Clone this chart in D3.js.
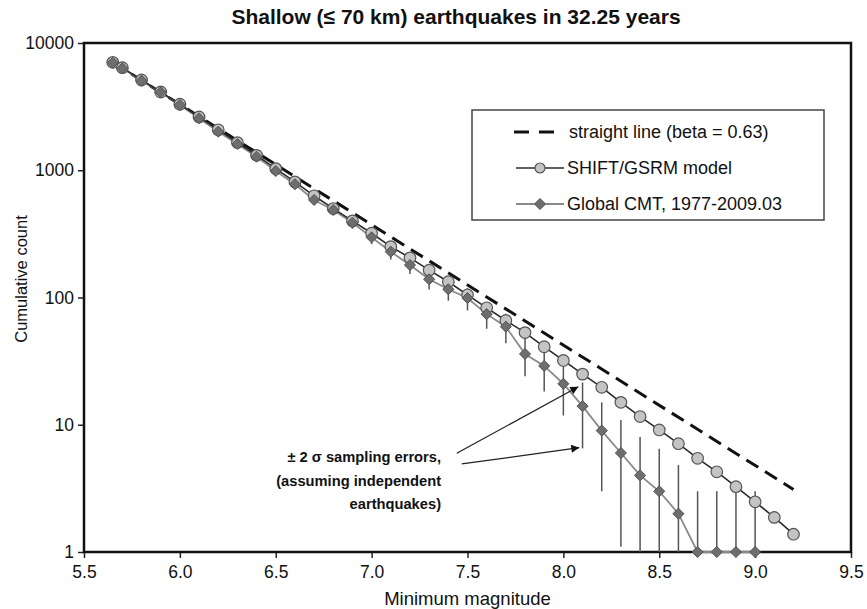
<!DOCTYPE html>
<html>
  <head>
    <meta charset="utf-8" />
    <title>Shallow earthquakes</title>
    <script src="https://d3js.org/d3.v7.min.js"></script>
    <style>
      body { margin: 0; background: white; }
      svg text { font-family: "Liberation Sans", Arial, sans-serif; fill: #111; }
      .tick-label { font-size: 17.5px; }
      .legend-text { font-size: 18px; }
      .note { font-size: 14.7px; font-weight: bold; }
    </style>
  </head>
  <body>
    <svg id="chart"></svg>
    <script>

    // magnitude steps (minimum magnitude for cumulative count)
    var magnitudes = [5.65, 5.7, 5.8, 5.9, 6.0, 6.1, 6.2, 6.3, 6.4, 6.5, 6.6, 6.7, 6.8, 6.9,
      7.0, 7.1, 7.2, 7.3, 7.4, 7.5, 7.6, 7.7, 7.8, 7.9, 8.0, 8.1, 8.2, 8.3, 8.4, 8.5, 8.6,
      8.7, 8.8, 8.9, 9.0, 9.1, 9.2];

    // SHIFT/GSRM model cumulative counts
    var modelCounts = [7050, 6400, 5120, 4120, 3300, 2620, 2080, 1650, 1310, 1030, 810, 630, 500, 400,
      320, 251, 205, 164, 133, 105, 83, 66, 53, 41, 32, 25, 19.7, 15, 11.6, 9.1, 7.1,
      5.45, 4.27, 3.26, 2.48, 1.87, 1.38];

    // Global CMT cumulative counts (stops at 9.0)
    var cmtCounts = [7000, 6320, 5060, 4100, 3260, 2560, 2010, 1608, 1278, 986, 776, 584, 487, 387,
      297, 229, 180, 139, 116, 99, 74, 59, 36, 29, 21, 14, 9, 6, 4, 3, 2,
      1, 1, 1, 1];

    // straight line end points [magnitude, count]
    var straightLine = [[5.65, 7050], [9.2, 3.1]];

    var xTicks = [5.5, 6.0, 6.5, 7.0, 7.5, 8.0, 8.5, 9.0, 9.5];
    var yTicks = [1, 10, 100, 1000, 10000];

    var legendLabels = ["straight line (beta = 0.63)", "SHIFT/GSRM model", "Global CMT, 1977-2009.03"];

    var noteLines = ["\u00b1 2 \u03c3 sampling errors,", "(assuming independent", "earthquakes)"];
    // arrows in data units: [fromMag, fromCount, toMag, toCount]
    var noteArrows = [[7.444, 5.97, 8.078, 19.9], [7.47, 4.92, 8.083, 6.6]];

    var width = 867, height = 609;
    var margin = {top: 43, right: 16, bottom: 57, left: 84};

    var svg = d3.select("#chart")
      .attr("width", width)
      .attr("height", height);

    var x = d3.scaleLinear().domain([5.5, 9.5]).range([margin.left, width - margin.right]);
    var y = d3.scaleLog().domain([1, 10000]).range([height - margin.bottom, margin.top]);

    var model = magnitudes.map(function(m, i) { return {m: m, n: modelCounts[i]}; });
    var cmt = cmtCounts.map(function(n, i) { return {m: magnitudes[i], n: n}; });

    //Title
    svg.append("text")
      .attr("x", 456).attr("y", 24)
      .attr("text-anchor", "middle")
      .style("font-size", "21px").style("font-weight", "bold")
      .text("Shallow (\u2264 70 km) earthquakes in 32.25 years");

    //Axes
    var xAxis = svg.append("g")
      .attr("transform", "translate(0," + y(1) + ")")
      .call(d3.axisBottom(x).tickValues(xTicks).tickFormat(d3.format(".1f")).tickSize(6).tickPadding(8));
    var yAxis = svg.append("g")
      .attr("transform", "translate(" + x(5.5) + ",0)")
      .call(d3.axisLeft(y).tickValues(yTicks).tickFormat(d3.format("d")).tickSize(6).tickPadding(4));

    [xAxis, yAxis].forEach(function(a) {
      a.select(".domain").remove();
      a.selectAll(".tick line").attr("stroke", "#222").attr("stroke-width", 1.5);
      a.selectAll(".tick text").attr("class", "tick-label").attr("fill", "#111")
        .style("font-family", "'Liberation Sans', Arial, sans-serif");
    });

    //Plot frame
    svg.append("rect")
      .attr("x", x(5.5)).attr("y", y(10000))
      .attr("width", x(9.5) - x(5.5)).attr("height", y(1) - y(10000))
      .attr("fill", "none").attr("stroke", "#111").attr("stroke-width", 2.5);

    svg.append("text")
      .attr("x", (x(5.5) + x(9.5)) / 2).attr("y", 605)
      .attr("text-anchor", "middle")
      .style("font-size", "18.5px")
      .text("Minimum magnitude");

    svg.append("text")
      .attr("transform", "translate(27,279) rotate(-90)")
      .attr("text-anchor", "middle")
      .style("font-size", "16.5px")
      .text("Cumulative count");

    //Error bars (+/- 2 sigma, sigma = sqrt(N)), clipped to axis
    var bars = svg.append("g");
    cmt.forEach(function(d) {
      var s = Math.sqrt(d.n);
      var lo = Math.max(1, d.n - 2 * s), hi = d.n + 2 * s;
      bars.append("line")
        .attr("x1", x(d.m)).attr("x2", x(d.m))
        .attr("y1", y(lo)).attr("y2", y(hi))
        .attr("stroke", "#555").attr("stroke-width", 1.5);
    });

    var line = d3.line()
      .x(function(d) { return x(d.m); })
      .y(function(d) { return y(d.n); });

    //Straight line
    svg.append("path")
      .datum(straightLine.map(function(p) { return {m: p[0], n: p[1]}; }))
      .attr("d", line)
      .attr("fill", "none").attr("stroke", "#111")
      .attr("stroke-width", 3).attr("stroke-dasharray", "14,8");

    //Global CMT line
    svg.append("path")
      .datum(cmt).attr("d", line)
      .attr("fill", "none").attr("stroke", "#8a8a8a").attr("stroke-width", 1.8);

    //Model line
    svg.append("path")
      .datum(model).attr("d", line)
      .attr("fill", "none").attr("stroke", "#2a2a2a").attr("stroke-width", 1.6);

    //Model circles
    svg.selectAll(".model-pt")
      .data(model).enter().append("circle")
      .attr("class", "model-pt")
      .attr("cx", function(d) { return x(d.m); })
      .attr("cy", function(d) { return y(d.n); })
      .attr("r", 5.8)
      .attr("fill", "#c4c4c4").attr("stroke", "#555").attr("stroke-width", 1.2);

    //CMT diamonds
    var diamond = d3.symbol().type(d3.symbolDiamond2).size(78);
    svg.selectAll(".cmt-pt")
      .data(cmt).enter().append("path")
      .attr("class", "cmt-pt")
      .attr("transform", function(d) { return "translate(" + x(d.m) + "," + y(d.n) + ")"; })
      .attr("d", diamond)
      .attr("fill", "#6e6e6e").attr("stroke", "#505050").attr("stroke-width", 1);

    //Legend
    var legend = svg.append("g");
    legend.append("rect")
      .attr("x", 472).attr("y", 110).attr("width", 352).attr("height", 110)
      .attr("fill", "white").attr("stroke", "#444").attr("stroke-width", 1.5);
    var rowY = [132, 168, 204];
    legendLabels.forEach(function(lbl, i) {
      var g = legend.append("g").attr("transform", "translate(0," + rowY[i] + ")");
      if (i === 0) {
        g.append("line").attr("x1", 514).attr("x2", 556).attr("y1", 0).attr("y2", 0)
          .attr("stroke", "#111").attr("stroke-width", 3).attr("stroke-dasharray", "15,10");
      } else if (i === 1) {
        g.append("line").attr("x1", 516).attr("x2", 564).attr("y1", 0).attr("y2", 0)
          .attr("stroke", "#2a2a2a").attr("stroke-width", 1.6);
        g.append("circle").attr("cx", 540).attr("cy", 0).attr("r", 5)
          .attr("fill", "#c4c4c4").attr("stroke", "#555").attr("stroke-width", 1.2);
      } else {
        g.append("line").attr("x1", 516).attr("x2", 564).attr("y1", 0).attr("y2", 0)
          .attr("stroke", "#8a8a8a").attr("stroke-width", 1.8);
        g.append("path").attr("transform", "translate(540,0)").attr("d", diamond)
          .attr("fill", "#6e6e6e").attr("stroke", "#505050");
      }
      g.append("text").attr("class", "legend-text")
        .attr("x", i === 0 ? 569 : 567).attr("y", 6)
        .text(lbl);
    });

    //Annotation
    svg.append("defs").append("marker")
      .attr("id", "arrow").attr("viewBox", "0 0 10 10")
      .attr("refX", 10).attr("refY", 5)
      .attr("markerWidth", 10).attr("markerHeight", 8)
      .attr("markerUnits", "userSpaceOnUse")
      .attr("orient", "auto")
      .append("path").attr("d", "M0,0L10,5L0,10Z").attr("fill", "#111");

    noteArrows.forEach(function(a) {
      svg.append("line")
        .attr("x1", x(a[0])).attr("y1", y(a[1]))
        .attr("x2", x(a[2])).attr("y2", y(a[3]))
        .attr("stroke", "#222").attr("stroke-width", 1.3)
        .attr("marker-end", "url(#arrow)");
    });

    var noteX = x(7.362);
    noteLines.forEach(function(t, i) {
      svg.append("text").attr("class", "note")
        .attr("x", noteX).attr("y", 462 + i * 23.5)
        .attr("text-anchor", "end")
        .text(t);
    });

    </script>
  </body>
</html>
